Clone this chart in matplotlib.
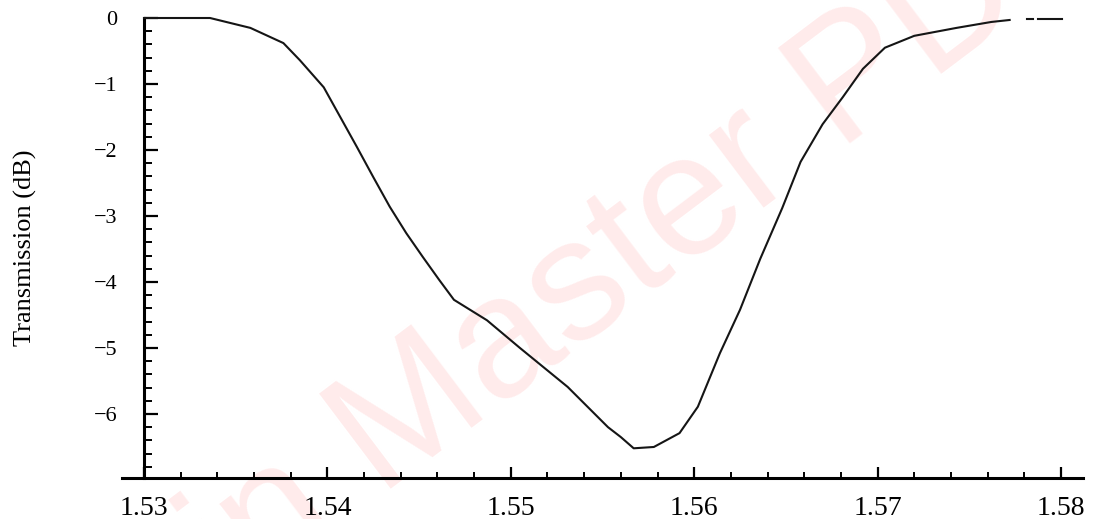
import matplotlib
matplotlib.use("Agg")
import matplotlib.pyplot as plt
from matplotlib.ticker import MultipleLocator, FixedLocator

plt.rcParams['font.family'] = ['Liberation Serif', 'DejaVu Serif']

# wavelength (um) and transmission (dB)
wl = [1.5300, 1.5336, 1.5358, 1.5376, 1.5385, 1.5398, 1.5407, 1.5416, 1.5425,
      1.5434, 1.5443, 1.5452, 1.5461, 1.5469, 1.5487, 1.5505, 1.5531, 1.5553,
      1.5560, 1.5567, 1.5578, 1.5592, 1.5602, 1.5614, 1.5625, 1.5636, 1.5648,
      1.5658, 1.5670, 1.5681, 1.5692, 1.5704, 1.5720, 1.5743, 1.5762, 1.5772]
trans = [0.0, 0.0, -0.15, -0.38, -0.64, -1.05, -1.50, -1.95, -2.41,
         -2.86, -3.26, -3.62, -3.97, -4.27, -4.58, -5.00, -5.59, -6.20,
         -6.35, -6.52, -6.50, -6.29, -5.89, -5.08, -4.42, -3.65, -2.88,
         -2.18, -1.61, -1.20, -0.77, -0.45, -0.27, -0.15, -0.06, -0.03]

# broken tail at the right end of the trace
tail_wl = [1.57815, 1.57848, float('nan'), 1.57875, 1.58005]
tail_tr = [-0.02, -0.02, float('nan'), -0.02, -0.02]

xticks = [1.53, 1.54, 1.55, 1.56, 1.57, 1.58]
xlabels = ['1.53', '1.54', '1.55', '1.56', '1.57', '1.58']
yticks = [0, -1, -2, -3, -4, -5, -6]
ylabels = ['0', '\u22121', '\u22122', '\u22123', '\u22124', '\u22125', '\u22126']

fig = plt.figure(figsize=(11.01, 5.19), dpi=100)
ax = fig.add_axes([122/1101, 41/519, 961/1101, 460/519])

# watermark, behind everything
fig.text(0.2134, -0.168, 'in Master PDF Editor', rotation=37, rotation_mode='anchor',
         ha='left', va='baseline', fontsize=124, color='#ffebeb',
         family='Liberation Sans', zorder=-10)

ax.plot(wl, trans, color='#151515', lw=1.5, clip_on=False, zorder=3)
ax.plot(tail_wl, tail_tr, color='#151515', lw=1.5, clip_on=False, zorder=3)

ax.set_xlim(1.5288, 1.5812)
ax.set_ylim(-6.97, 0)
ax.patch.set_alpha(0)

ax.spines['top'].set_visible(False)
ax.spines['right'].set_visible(False)
ax.spines['left'].set_position(('data', 1.53))
ax.spines['left'].set_linewidth(2.2)
ax.spines['bottom'].set_linewidth(2.2)

ax.xaxis.set_major_locator(FixedLocator(xticks))
ax.xaxis.set_minor_locator(MultipleLocator(0.002))
ax.set_xticklabels(xlabels)
ax.yaxis.set_major_locator(FixedLocator(yticks))
ax.yaxis.set_minor_locator(MultipleLocator(0.2))
ax.set_yticklabels(ylabels)

ax.tick_params(axis='x', which='major', direction='in', length=8, width=1.6,
               labelsize=20, pad=13)
ax.tick_params(axis='x', which='minor', direction='in', length=4, width=1.4)
ax.tick_params(axis='y', which='major', direction='in', length=10, width=1.6,
               labelsize=16, pad=19)
ax.tick_params(axis='y', which='minor', direction='in', length=6, width=1.4)

ax.set_ylabel('Transmission (dB)', fontsize=19)
ax.yaxis.set_label_coords(-0.088, 0.5)

fig.savefig('out.png', dpi=100)
